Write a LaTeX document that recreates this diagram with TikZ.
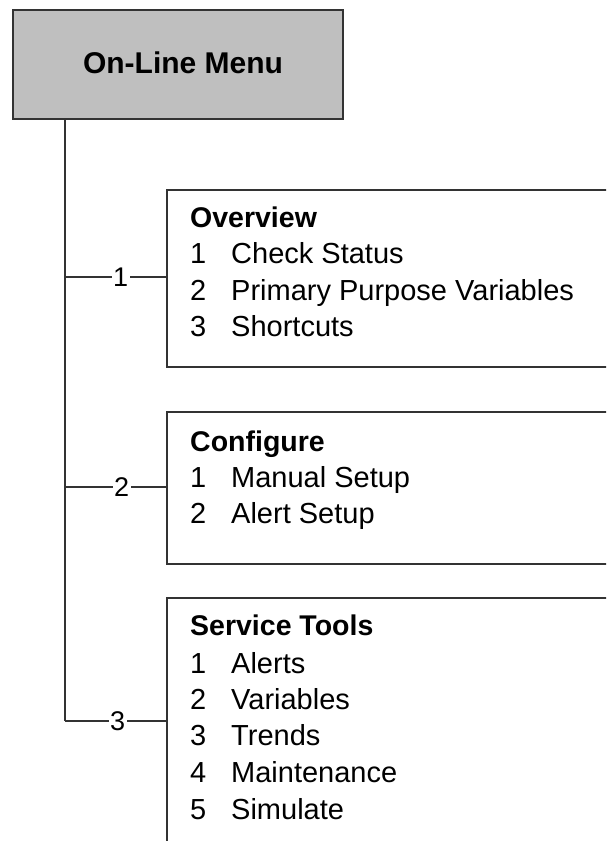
\documentclass[tikz,border=0pt]{standalone}
\usepackage{fontspec}
\setmainfont{Liberation Sans}
\begin{document}
\begin{tikzpicture}[x=1pt,y=-1pt,
  boxline/.style={draw=black!80, line width=1.9pt},
  menubox/.style={boxline, fill=black!25, rectangle, inner sep=0pt, minimum width=330pt, minimum height=109pt, anchor=north west},
  subbox/.style={boxline, fill=white, rectangle, inner sep=0pt, minimum width=480pt, anchor=north west},
  head/.style={anchor=base west, inner sep=0pt, font=\fontsize{28.5}{34}\selectfont\bfseries},
  itemtxt/.style={anchor=base west, inner sep=0pt, font=\fontsize{29}{34}\selectfont},
  conn/.style={draw=black!80, line width=1.9pt},
  lbl/.style={fill=white, inner sep=1.5pt, font=\fontsize{27}{32}\selectfont}
]
\useasboundingbox (0,0) rectangle (606,841);
\clip (0,0) rectangle (606,841);

% top menu
\node[menubox] (menu) at (12,9) {};
\node[font=\fontsize{30}{36}\selectfont\bfseries, inner sep=0pt, anchor=base] (menut) at (183,73.3) {On-Line Menu};

% sub boxes
\node[subbox, minimum height=177pt] (ov) at (166,189) {};
\node[subbox, minimum height=152pt] (cf) at (166,411) {};
\node[subbox, minimum height=300pt] (st) at (166,597) {};

% Overview text
\node[head] (ovh) at (190,227) {Overview};
\node[itemtxt] (ovn1) at (190,263.5) {1};
\node[itemtxt] (ovt1) at (231,263.5) {Check Status};
\node[itemtxt] (ovn2) at (190,300) {2};
\node[itemtxt] (ovt2) at (231,300) {Primary Purpose Variables};
\node[itemtxt] (ovn3) at (190,336.7) {3};
\node[itemtxt] (ovt3) at (231,336.7) {Shortcuts};

% Configure text
\node[head] (cfh) at (190,451.7) {Configure};
\node[itemtxt] (cfn1) at (190,487) {1};
\node[itemtxt] (cft1) at (231,487) {Manual Setup};
\node[itemtxt] (cfn2) at (190,523) {2};
\node[itemtxt] (cft2) at (231,523) {Alert Setup};

% Service Tools text
\node[head] (sth) at (190,635) {Service Tools};
\node[itemtxt] (stn1) at (190,673) {1};
\node[itemtxt] (stt1) at (231,673) {Alerts};
\node[itemtxt] (stn2) at (190,709) {2};
\node[itemtxt] (stt2) at (231,709) {Variables};
\node[itemtxt] (stn3) at (190,745.5) {3};
\node[itemtxt] (stt3) at (231,745.5) {Trends};
\node[itemtxt] (stn4) at (190,782.5) {4};
\node[itemtxt] (stt4) at (231,782.5) {Maintenance};
\node[itemtxt] (stn5) at (190,819) {5};
\node[itemtxt] (stt5) at (231,819) {Simulate};

% connectors
\coordinate (top) at (65,118);
\coordinate (j1) at (65,277.3);
\coordinate (j2) at (65,486.7);
\coordinate (j3) at (65,721);
\draw[conn] (top) -- (j3);
\draw[conn] (j1) -- node[lbl, pos=0.55] {1} (j1 -| ov.west);
\draw[conn] (j2) -- node[lbl, pos=0.56] {2} (j2 -| cf.west);
\draw[conn] (j3) -- node[lbl, pos=0.52] {3} (j3 -| st.west);
\end{tikzpicture}
\end{document}
